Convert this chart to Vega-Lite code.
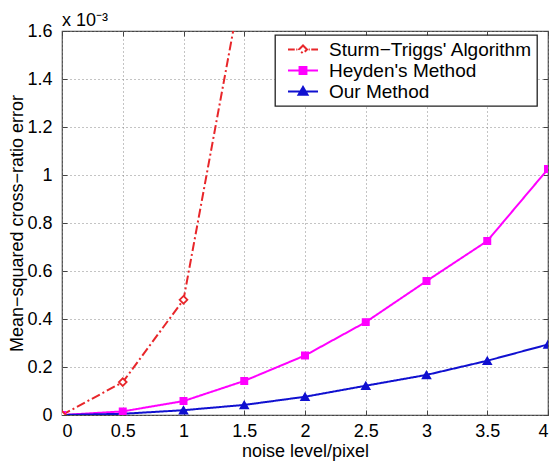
{
  "$schema": "https://vega.github.io/schema/vega-lite/v6.json",
  "width": 486,
  "height": 384,
  "autosize": {"type": "none"},
  "padding": {"left": 62, "top": 31, "right": 6, "bottom": 49},
  "background": "white",
  "title": {"text": "x 10⁻³", "anchor": "start", "frame": "group", "fontSize": 18, "font": "Liberation Sans", "fontWeight": "normal", "offset": -8, "color": "black"},
  "config": {
    "font": "Liberation Sans",
    "view": {"stroke": "#444", "strokeWidth": 1.2},
    "axis": {
      "domain": false,
      "grid": true,
      "gridDash": [1, 3],
      "gridColor": "#888",
      "gridWidth": 1,
      "tickColor": "#444",
      "tickSize": -5,
      "labelFont": "Liberation Sans",
      "labelFontSize": 18,
      "labelColor": "black",
      "titleFont": "Liberation Sans",
      "titleFontSize": 18,
      "titleFontWeight": "normal",
      "titleColor": "black"
    },
    "legend": {
      "orient": "none",
      "legendX": 213,
      "legendY": 4,
      "fillColor": "white",
      "strokeColor": "#222",
      "padding": 4,
      "symbolOffset": 8,
      "symbolSize": 900,
      "clipHeight": 21,
      "rowPadding": 0,
      "labelFont": "Liberation Sans",
      "labelFontSize": 19,
      "labelLimit": 400,
      "labelColor": "black",
      "labelOffset": 10,
      "symbolStrokeWidth": 2
    }
  },
  "data": {
    "values": [
      {"x": 0, "err": 0, "series": "Sturm−Triggs' Algorithm"},
      {"x": 0.5, "err": 0.137, "series": "Sturm−Triggs' Algorithm"},
      {"x": 1, "err": 0.48, "series": "Sturm−Triggs' Algorithm"},
      {"x": 1.5, "err": 1.85, "series": "Sturm−Triggs' Algorithm"},
      {"x": 0, "err": 0, "series": "Heyden's Method"},
      {"x": 0.5, "err": 0.015, "series": "Heyden's Method"},
      {"x": 1, "err": 0.058, "series": "Heyden's Method"},
      {"x": 1.5, "err": 0.142, "series": "Heyden's Method"},
      {"x": 2, "err": 0.248, "series": "Heyden's Method"},
      {"x": 2.5, "err": 0.387, "series": "Heyden's Method"},
      {"x": 3, "err": 0.558, "series": "Heyden's Method"},
      {"x": 3.5, "err": 0.725, "series": "Heyden's Method"},
      {"x": 4, "err": 1.025, "series": "Heyden's Method"},
      {"x": 0, "err": 0, "series": "Our Method"},
      {"x": 0.5, "err": 0.005, "series": "Our Method"},
      {"x": 1, "err": 0.02, "series": "Our Method"},
      {"x": 1.5, "err": 0.042, "series": "Our Method"},
      {"x": 2, "err": 0.076, "series": "Our Method"},
      {"x": 2.5, "err": 0.122, "series": "Our Method"},
      {"x": 3, "err": 0.167, "series": "Our Method"},
      {"x": 3.5, "err": 0.226, "series": "Our Method"},
      {"x": 4, "err": 0.294, "series": "Our Method"}
    ]
  },
  "resolve": {"axis": {"x": "independent", "y": "independent"}},
  "layer": [
    {
      "mark": {"type": "line", "strokeWidth": 2, "clip": true},
      "encoding": {
        "x": {"field": "x", "type": "quantitative", "scale": {"domain": [0, 4], "nice": false},
              "axis": {"orient": "bottom", "values": [0, 0.5, 1, 1.5, 2, 2.5, 3, 3.5, 4], "format": "~g", "title": "noise level/pixel", "labelPadding": 12, "titlePadding": 2}},
        "y": {"field": "err", "type": "quantitative", "scale": {"domain": [0, 1.6], "nice": false},
              "axis": {"orient": "left", "values": [0, 0.2, 0.4, 0.6, 0.8, 1, 1.2, 1.4, 1.6], "format": "~g", "title": "Mean−squared cross−ratio error", "labelPadding": 15, "titlePadding": 0}},
        "color": {"field": "series", "type": "nominal",
                  "scale": {"domain": ["Sturm−Triggs' Algorithm", "Heyden's Method", "Our Method"], "range": ["#e8262a", "#ff00ff", "#1010d0"]},
                  "legend": {"title": null,
                    "labelExpr": "datum.label + '\u00a0\u00a0'",
                    "encode": {"symbols": {
                      "enter": {
                        "shape": {"signal": "datum.index == 0 ? 'M-1,0H-0.55M-0.45,0H-0.38M0,-0.27L0.27,0L0,0.27L-0.27,0ZM0.38,0H0.45M0.55,0H1' : datum.index == 1 ? 'M-1,0H1M-0.23,-0.23H0.23V0.23H-0.23Z' : 'M-1,0H1M0,-0.3L0.3,0.22H-0.3Z'"},
                        "fill": {"signal": "datum.index == 0 ? 'white' : datum.index == 1 ? '#ff00ff' : '#1010d0'"},
                        "strokeDash": {"value": [1, 0]},
                        "strokeWidth": {"value": 2}
                      },
                      "update": {
                        "shape": {"signal": "datum.index == 0 ? 'M-1,0H-0.55M-0.45,0H-0.38M0,-0.27L0.27,0L0,0.27L-0.27,0ZM0.38,0H0.45M0.55,0H1' : datum.index == 1 ? 'M-1,0H1M-0.23,-0.23H0.23V0.23H-0.23Z' : 'M-1,0H1M0,-0.3L0.3,0.22H-0.3Z'"},
                        "fill": {"signal": "datum.index == 0 ? 'white' : datum.index == 1 ? '#ff00ff' : '#1010d0'"},
                        "strokeDash": {"value": [1, 0]},
                        "strokeWidth": {"value": 2}
                      }
                    }, "legend": {"update": {"strokeWidth": {"value": 1.3}}}}}},
        "strokeDash": {"field": "series", "type": "nominal",
                  "scale": {"domain": ["Sturm−Triggs' Algorithm", "Heyden's Method", "Our Method"], "range": [[9, 3, 2, 3], [1, 0], [1, 0]]},
                  "legend": null}
      }
    },
    {
      "transform": [{"filter": "datum.series == 'Our Method'"}],
      "mark": {"type": "point", "shape": "triangle-up", "filled": true, "clip": true, "fill": "#1010d0", "stroke": "#1010d0", "strokeWidth": 1.5, "opacity": 1, "size": 64},
      "encoding": {
        "x": {"field": "x", "type": "quantitative", "axis": null},
        "y": {"field": "err", "type": "quantitative", "axis": null}
      }
    },
    {
      "transform": [{"filter": "datum.series == 'Heyden\\'s Method'"}],
      "mark": {"type": "point", "shape": "square", "filled": true, "clip": true, "fill": "#ff00ff", "stroke": "#ff00ff", "strokeWidth": 1.5, "opacity": 1, "size": 42},
      "encoding": {
        "x": {"field": "x", "type": "quantitative", "axis": null},
        "y": {"field": "err", "type": "quantitative", "axis": null}
      }
    },
    {
      "transform": [{"filter": "datum.series == 'Sturm−Triggs\\' Algorithm'"}],
      "mark": {"type": "point", "shape": "diamond", "filled": true, "clip": true, "fill": "white", "stroke": "#e8262a", "strokeWidth": 1.8, "opacity": 1, "size": 60},
      "encoding": {
        "x": {"field": "x", "type": "quantitative", "axis": null},
        "y": {"field": "err", "type": "quantitative", "axis": null}
      }
    },
    {
      "transform": [{"filter": "datum.err <= 1.6"}],
      "mark": {"type": "point", "opacity": 0, "clip": true},
      "encoding": {
        "x": {"field": "x", "type": "quantitative",
              "axis": {"orient": "top", "values": [0, 0.5, 1, 1.5, 2, 2.5, 3, 3.5, 4], "labels": false, "grid": false, "title": null}},
        "y": {"field": "err", "type": "quantitative",
              "axis": {"orient": "right", "values": [0, 0.2, 0.4, 0.6, 0.8, 1, 1.2, 1.4, 1.6], "labels": false, "grid": false, "title": null}}
      }
    }
  ]
}
